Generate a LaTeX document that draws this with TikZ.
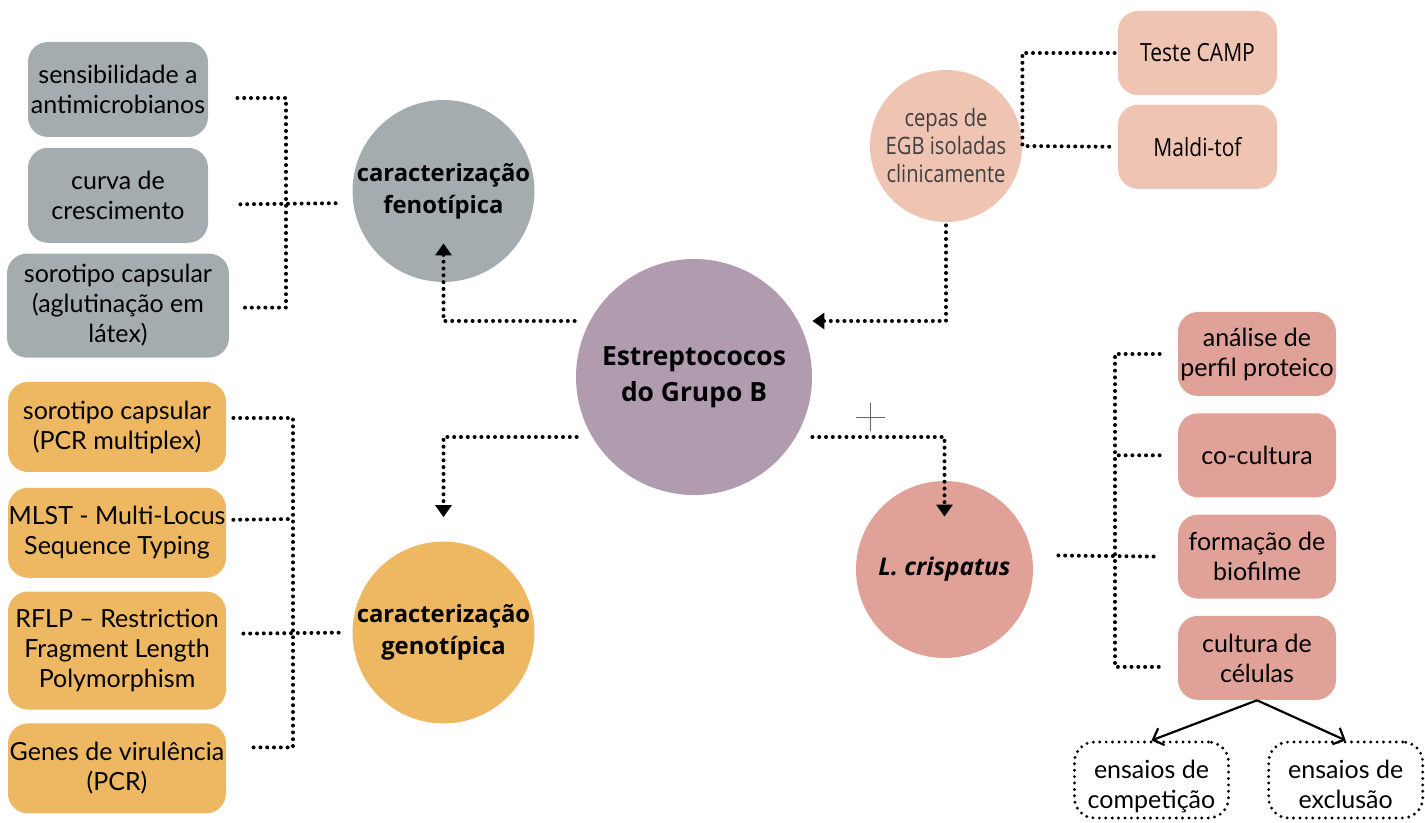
\documentclass[tikz,border=0pt]{standalone}
\usepackage{fontspec}
\setmainfont{Lato}
\newfontfamily\headfont{Open Sans}
\newfontfamily\condfont[FakeStretch=0.84]{Open Sans}
\usepackage{xcolor}
\usepackage{tikz}
\usetikzlibrary{positioning,arrows.meta,shapes.geometric}
\definecolor{fgray}{RGB}{165,172,175}
\definecolor{egbpurple}{RGB}{176,156,174}
\definecolor{gorange}{RGB}{238,183,98}
\definecolor{cpeach}{RGB}{239,196,178}
\definecolor{lpink}{RGB}{224,162,152}
\tikzset{
  tbox/.style={rounded corners=10pt, align=center, inner sep=0pt, font=\fontsize{12.5}{15}\selectfont},
  gbox/.style={tbox, fill=fgray, minimum width=90pt, minimum height=47.5pt},
  obox/.style={tbox, fill=gorange, minimum width=109pt, minimum height=45pt},
  pbox/.style={tbox, fill=lpink, minimum width=79pt, minimum height=42pt},
  cbox/.style={tbox, fill=cpeach, minimum width=79.5pt, minimum height=42pt, font=\condfont\fontsize{12.5}{15}\selectfont},
  ebox/.style={tbox, draw, line width=1.6pt, line cap=round, dash pattern=on 0pt off 3.2pt, minimum width=77pt, minimum height=38pt},
  hub/.style={circle, inner sep=0pt, align=center, font=\headfont\bfseries\fontsize{11.9}{16}\selectfont},
  dots/.style={line width=2pt, line cap=round, dash pattern=on 0pt off 3.4pt},
  darr/.style={dots, -{Triangle[length=6pt,width=8pt]}},
  sarr/.style={-{Straight Barb[length=4.5pt,width=9pt]}, line width=1.1pt},
}
\begin{document}
\begin{tikzpicture}[x=0.5pt,y=-0.5pt]
    \useasboundingbox (0,0) rectangle (1425,823);
    % centre
    \node[hub, fill=egbpurple, minimum size=118pt, font=\headfont\bfseries\fontsize{13.2}{18}\selectfont] (egb) at (694,377) {Estreptococos\\do Grupo B};
    \node[hub, fill=fgray, minimum size=88pt] (feno) at (443.5,191) {caracterização\\fenotípica};
    \node[hub, fill=gorange, minimum size=88.5pt] (geno) at (443.5,632.5) {caracterização\\genotípica};
    \node[hub, fill=cpeach, minimum size=76pt, font=\condfont\fontsize{12}{14}\selectfont, text=black!75] (cepas) at (946,146) {cepas de\\EGB isoladas\\clinicamente};
    \node[hub, fill=lpink, minimum size=88.5pt, font=\headfont\bfseries\itshape\fontsize{12.2}{16}\selectfont] (crisp) at (944.5,569.5) {L. crispatus};
    % fenotipica
    \node[gbox] (sens) at (118,89.5) {sensibilidade a\\antimicrobianos};
    \node[gbox, below=5pt of sens] (curva) {curva de\\crescimento};
    \node[gbox, below=5pt of curva, minimum width=111pt, minimum height=52pt] (soroA) {sorotipo capsular\\(aglutinação em\\látex)};
    % genotipica
    \node[obox] (soroB) at (117,427) {sorotipo capsular\\(PCR multiplex)};
    \node[obox, below=7.5pt of soroB] (mlst) {MLST - Multi-Locus\\Sequence Typing};
    \node[obox, below=6.5pt of mlst, minimum height=59pt] (rflp) {RFLP – Restriction\\Fragment Length\\Polymorphism};
    \node[obox, below=6.5pt of rflp] (genes) {Genes de virulência\\(PCR)};
    % cepas
    \node[cbox] (camp) at (1197.5,53) {Teste CAMP};
    \node[cbox, below=4.5pt of camp] (maldi) {Maldi-tof};
    % crispatus
    \node[pbox] (perfil) at (1257,354) {análise de\\perfil proteico};
    \node[pbox, below=8.25pt of perfil] (cocult) {co-cultura};
    \node[pbox, below=8.25pt of cocult] (biof) {formação de\\biofilme};
    \node[pbox, below=8.25pt of biof] (celulas) {cultura de\\células};
    \node[ebox] (compet) at (1151.5,780) {\rule{0pt}{16pt}ensaios de\\competição};
    \node[ebox, right=18.5pt of compet] (excl) {\rule{0pt}{16pt}ensaios de\\exclusão\vphantom{p}};

    \coordinate (fb) at (286,203);
    \draw[dots] ([xshift=14.5pt,yshift=-4.25pt]sens.east) -| (fb) |- ([xshift=5.5pt,yshift=-1pt]soroA.east);
    \draw[dots, shorten >=7pt] ([xshift=16pt,yshift=-4.5pt]curva.east) -- (feno.west |- fb);

    \coordinate (ob) at (293,632);
    \coordinate (ob2) at (293,519);
    \draw[dots] ([xshift=3.5pt,yshift=4.5pt]soroB.east) -| (ob) |- ([xshift=10.5pt,yshift=10.5pt]genes.east);
    \draw[dots] ([xshift=3.5pt,yshift=6.5pt]mlst.east) -- (ob2);
    \draw[dots, shorten >=6pt] ([xshift=8.5pt,yshift=8.5pt]rflp.east) -- (geno.west);

    \draw[dots] ([xshift=-1.5pt]camp.west) -| (cepas.east) -- ([xshift=-1.5pt]maldi.west);

    \coordinate (rb) at (1115,555);
    \draw[dots] ([xshift=-9pt]perfil.west) -| (rb) |- ([xshift=-9pt,yshift=-4.5pt]celulas.west);
    \draw[dots] ([xshift=-9pt]cocult.west) -- (cocult.west -| rb);
    \draw[dots] ([xshift=12.5pt,yshift=7pt]crisp.east) -- ([xshift=-9pt]biof.west);

    \draw[darr] ([xshift=-0.5pt,yshift=28pt]egb.west) -| ([yshift=19.5pt]feno.south);
    \draw[darr] ([xshift=0.5pt,yshift=-30pt]egb.west) -| ([yshift=12pt]geno.north);
    \draw[darr] ([yshift=-1.5pt]cepas.south) |- ([yshift=28pt]egb.east);
    \draw[darr] ([yshift=-30pt]egb.east) -| ([yshift=-18pt]crisp.north);

    \draw[sarr] (celulas.south) -- (compet.north);
    \draw[sarr] (celulas.south) -- (excl.north);

    \draw[black!60, line width=0.4pt] (856,417) -- (885,417) (870,403) -- (870,431);
\end{tikzpicture}
\end{document}
